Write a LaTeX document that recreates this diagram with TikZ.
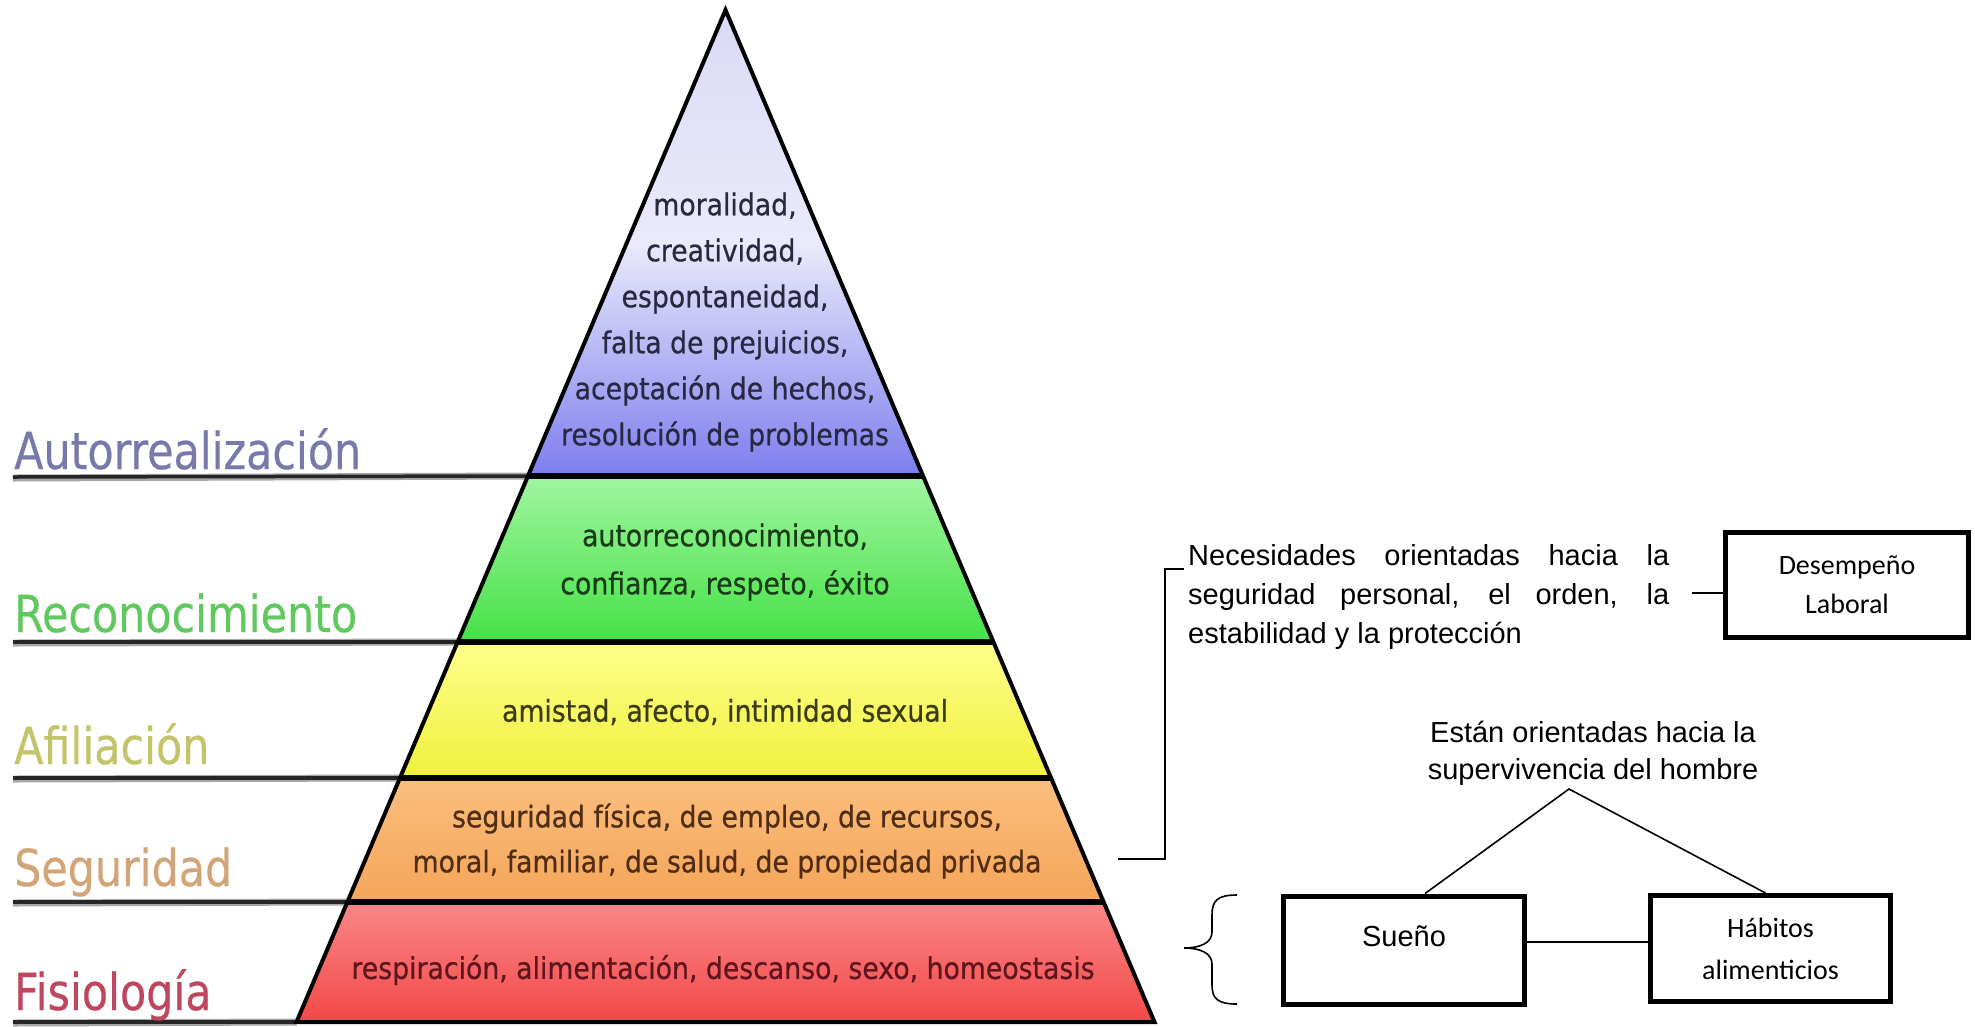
\documentclass[tikz,border=0pt]{standalone}
\usepackage{fontspec}
\setmainfont{Liberation Sans}
\newfontfamily\pyrfont[FakeStretch=0.89,FakeBold=0.6]{DejaVu Sans}
\newfontfamily\labfont[FakeStretch=0.84,FakeBold=0.4]{DejaVu Sans}
\newfontfamily\calfont{Carlito}
\usetikzlibrary{calc}
\definecolor{labA}{RGB}{120,120,170}
\definecolor{labR}{RGB}{95,200,95}
\definecolor{labF}{RGB}{195,195,105}
\definecolor{labS}{RGB}{210,165,120}
\definecolor{labP}{RGB}{190,70,95}
\definecolor{txA}{RGB}{40,40,65}
\definecolor{txR}{RGB}{25,60,25}
\definecolor{txF}{RGB}{60,60,20}
\definecolor{txS}{RGB}{80,45,20}
\definecolor{txP}{RGB}{95,20,30}
\begin{document}
\begin{tikzpicture}[x=1pt,y=-1pt,
  pyrtext/.style={align=center, inner sep=0pt},
  lab/.style={font=\labfont\fontsize{51}{51}\selectfont, anchor=base west, inner sep=0pt},
  sidebar/.style={line width=3.5pt, black!85},
  sideshadow/.style={line width=7pt, black!35},
  divider/.style={line width=6pt, black},
  conn/.style={line width=1.6pt, black},
  box/.style={draw, line width=5pt, inner sep=0pt}
]
\path[use as bounding box] (0,0) rectangle (1975,1026);

% pyramid corner points
\coordinate (apex) at (725.5,10);
\coordinate (l1) at (528.1,476);  \coordinate (r1) at (922.9,476);
\coordinate (l2) at (457.9,642);  \coordinate (r2) at (993.1,642);
\coordinate (l3) at (400.3,778);  \coordinate (r3) at (1050.7,778);
\coordinate (l4) at (347.7,902);  \coordinate (r4) at (1103.3,902);
\coordinate (l5) at (296.5,1022); \coordinate (r5) at (1154.5,1022);

% side lines
\foreach \p/\yy in {l1/477,l2/642,l3/778,l4/902,l5/1022}{
  \draw[sideshadow] (13,\yy+1) -- (\p);
  \draw[sidebar] (13,\yy) -- (\p);
}

% layers
\path[top color={rgb,255:red,218;green,218;blue,246}, bottom color={rgb,255:red,125;green,125;blue,238}, middle color={rgb,255:red,234;green,234;blue,251}] (apex) -- (r1) -- (l1) -- cycle;
\path[top color={rgb,255:red,160;green,245;blue,160}, bottom color={rgb,255:red,70;green,225;blue,70}] (l1) -- (r1) -- (r2) -- (l2) -- cycle;
\path[top color={rgb,255:red,255;green,255;blue,140}, bottom color={rgb,255:red,240;green,240;blue,60}] (l2) -- (r2) -- (r3) -- (l3) -- cycle;
\path[top color={rgb,255:red,250;green,190;blue,125}, bottom color={rgb,255:red,245;green,165;blue,90}] (l3) -- (r3) -- (r4) -- (l4) -- cycle;
\path[top color={rgb,255:red,250;green,135;blue,135}, bottom color={rgb,255:red,242;green,72;blue,72}] (l4) -- (r4) -- (r5) -- (l5) -- cycle;

\draw[divider] (l1) -- (r1);
\draw[divider] (l2) -- (r2);
\draw[divider] (l3) -- (r3);
\draw[divider] (l4) -- (r4);
\draw[line width=4pt, line join=miter] (apex) -- (r5) -- (l5) -- cycle;

% layer texts
\node[pyrtext, text=txA, font=\pyrfont\fontsize{30}{46}\selectfont] (tA) at (725,322) {moralidad,\\creatividad,\\espontaneidad,\\falta de prejuicios,\\aceptación de hechos,\\resolución de problemas};
\node[pyrtext, text=txR, font=\pyrfont\fontsize{30}{48}\selectfont] (tR) at (725,562) {autorreconocimiento,\\confianza, respeto, éxito};
\node[pyrtext, text=txF, font=\pyrfont\fontsize{30}{46}\selectfont] (tF) at (725,712) {amistad, afecto, intimidad sexual};
\node[pyrtext, text=txS, font=\pyrfont\fontsize{30}{45}\selectfont] (tS) at (727,841) {seguridad física, de empleo, de recursos,\\moral, familiar, de salud, de propiedad privada};
\node[pyrtext, text=txP, font=\pyrfont\fontsize{30}{46}\selectfont] (tP) at (723,970) {respiración, alimentación, descanso, sexo, homeostasis};

% side labels
\node[lab, text=labA] (nA) at (14,469) {Autorrealización};
\node[lab, text=labR] (nR) at (14,632) {Reconocimiento};
\node[lab, text=labF] (nF) at (14,764) {Afiliación};
\node[lab, text=labS] (nS) at (14,886) {Seguridad};
\node[lab, text=labP] (nP) at (14,1010) {Fisiología};

% right side
\node[font=\fontsize{29}{39}\selectfont, text width=481pt, align=justify, inner sep=0pt, anchor=north west] (nec) at (1188,544)
  {\noindent\hyphenpenalty=10000 Necesidades orientadas hacia la\linebreak seguridad personal, el orden, la\linebreak estabilidad y la protección};
\coordinate (sf) at (1118,859);
\coordinate (tk) at (1184,569);
\draw[conn] (sf) -| (1165,569) -- (tk);

\node[box, minimum width=243pt, minimum height=105pt, font=\calfont\fontsize{28}{39}\selectfont, align=center] (dl) at (1847,585) {Desempeño\\Laboral};
\coordinate (dsh) at (1692,593);
\draw[conn] (dsh) -- (dsh -| dl.west);

\node[font=\fontsize{29}{37}\selectfont, align=center, inner sep=0pt] (est) at (1593,753) {Están orientadas hacia la\\supervivencia del hombre};
\coordinate (tip) at (1569,789);

\node[box, minimum width=241pt, minimum height=108pt, font=\fontsize{29}{35}\selectfont, text height=21pt, text depth=28pt] (sue) at (1404,950) {Sueño};
\node[box, minimum width=240pt, minimum height=106pt, font=\calfont\fontsize{28}{42}\selectfont, align=center] (hab) at (1770.5,948.5) {Hábitos\\alimenticios};

\draw[conn] ([xshift=21pt]sue.north) -- (tip) -- ([xshift=-5pt]hab.north);
\draw[conn] ([yshift=8pt]sue.east) -- ([yshift=8pt]sue.east -| hab.west);

% brace
\draw[conn] (1237,895) .. controls (1218,895) and (1212,900) .. (1212,915) -- (1212,932)
  .. controls (1212,943) and (1200,948) .. (1184,948)
  .. controls (1200,948) and (1212,953) .. (1212,964) -- (1212,985)
  .. controls (1212,999) and (1218,1004) .. (1237,1004);
\end{tikzpicture}
\end{document}
